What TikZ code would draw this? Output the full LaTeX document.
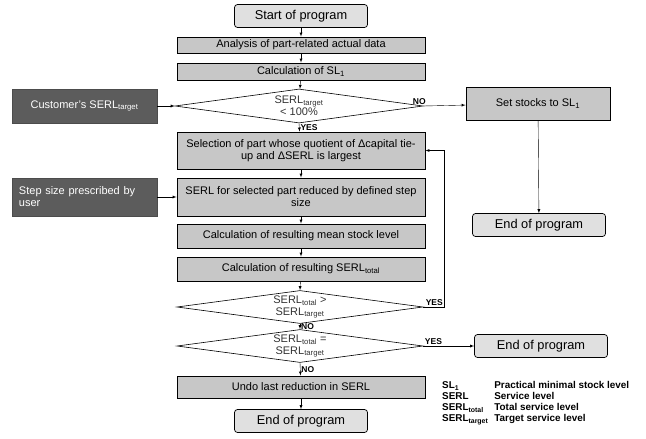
\documentclass[tikz,border=0pt]{standalone}
\usepackage{fontspec}
\setmainfont{Liberation Sans}
\usetikzlibrary{shapes.geometric,positioning,arrows}
\definecolor{boxgray}{gray}{0.78}
\definecolor{endgray}{gray}{0.88}
\definecolor{inputgray}{gray}{0.36}

\begin{document}
\begin{tikzpicture}[x = 1pt, y = -1pt, >=latex, font = \fontsize{11}{12}\selectfont,
  stepbox/.style = {draw, fill = boxgray, line width = .9pt, minimum width = 248pt, inner sep = 0pt, align = center},
  endbox/.style = {draw, fill = endgray, rounded corners = 3pt, line width = .7pt, minimum width = 133pt, minimum height = 23pt, font = \fontsize{12.8}{14}\selectfont},
  inputbox/.style = {draw = black!70, fill = inputgray, text = white, minimum width = 145pt, inner sep = 0pt},
  decision/.style = {diamond, draw, line width = .6pt, aspect = 8, minimum width = 246pt, minimum height = 33pt, inner sep = 0pt, align = center, text = black!80},
  yesno/.style = {font = \bfseries\fontsize{8.5}{9}\selectfont, inner sep = 1pt}]
\useasboundingbox (0,0) rectangle (646,439);

% main column
\node[endbox] (start) at (301,16) {Start of program};
\node[stepbox, minimum height = 16pt] (analysis) at (301,45) {Analysis of part-related actual data};
\node[stepbox, minimum height = 17pt] (calcsl) at (301,71.5) {Calculation of SL\textsubscript{1}};
\node[decision, minimum width = 248pt, minimum height = 34pt] (target) at (299,106) {SERL\textsubscript{target}\\< 100\%};
\node[stepbox, minimum height = 37pt] (select) at (301,150.5) {Selection of part whose quotient of Δcapital tie-\\up and ΔSERL is largest};
\node[stepbox, minimum height = 38pt] (reduce) at (301,197) {SERL for selected part reduced by defined step\\size};
\node[stepbox, minimum height = 24pt] (mean) at (301,236) {Calculation of resulting mean stock level};
\node[stepbox, minimum height = 24pt] (total) at (301,269) {Calculation of resulting SERL\textsubscript{total}};
\node[decision] (greater) at (300,307) {SERL\textsubscript{total} >\\SERL\textsubscript{target}};
\node[decision] (equal) at (300,346) {SERL\textsubscript{total} =\\SERL\textsubscript{target}};
\node[stepbox, minimum height = 22pt] (undo) at (301,387) {Undo last reduction in SERL};
\node[endbox] (endmain) at (301,421) {End of program};

% inputs on the left
\node[inputbox, minimum height = 34pt] (customer) at (84.5,106) {Customer's SERL\textsubscript{target}};
\node[inputbox, minimum height = 38pt, text width = 131pt, inner xsep = 7pt, align = left] (stepsize) at (84.5,197) {Step size prescribed by\\user};

% right side
\node[stepbox, minimum width = 144pt, minimum height = 33pt] (setstocks) at (538,103.5) {Set stocks to SL\textsubscript{1}};
\node[endbox] (endsl) at (539,225) {End of program};
\node[endbox] (endequal) at (541,346) {End of program};
\coordinate (loop) at (444,307);

% legend
\node[anchor = north west, inner sep = 0pt, font = \bfseries\fontsize{9.9}{11}\selectfont] (legend) at (442,381) {%
  \begin{tabular}{@{}l@{\hspace{6pt}}l@{}}
  SL\textsubscript{1} & Practical minimal stock level\\
  SERL & Service level\\
  SERL\textsubscript{total} & Total service level\\
  SERL\textsubscript{target} & Target service level
  \end{tabular}};

% connectors
\draw[->] (start) -- (analysis);
\draw[->] (analysis) -- (calcsl);
\draw[->] (calcsl) -- (target);
\draw[->] (customer) -- (target.west);
\draw[->] (target.south) -- node[yesno, right] {YES} (select);
\draw[->] (target.east) -- node[yesno, above, pos = 0, xshift = -4pt] {NO} (setstocks);
\draw[->] (setstocks) -- (endsl);
\draw[->] (select) -- (reduce);
\draw[->] (stepsize) -- (reduce);
\draw[->] (reduce) -- (mean);
\draw[->] (mean) -- (total);
\draw[->] (total) -- (greater.north);
\draw[->] (greater.east) -- node[yesno, above left, pos = 1] {YES} (loop) |- (select.east);
\draw[->] (greater.south) -- node[yesno, right] {NO} (equal.north);
\draw[->] (equal.east) -- node[yesno, above, pos = .2] {YES} (endequal);
\draw[->] (equal.south) -- node[yesno, right] {NO} (undo);
\draw[->] (undo) -- (endmain);
\end{tikzpicture}
\end{document}
